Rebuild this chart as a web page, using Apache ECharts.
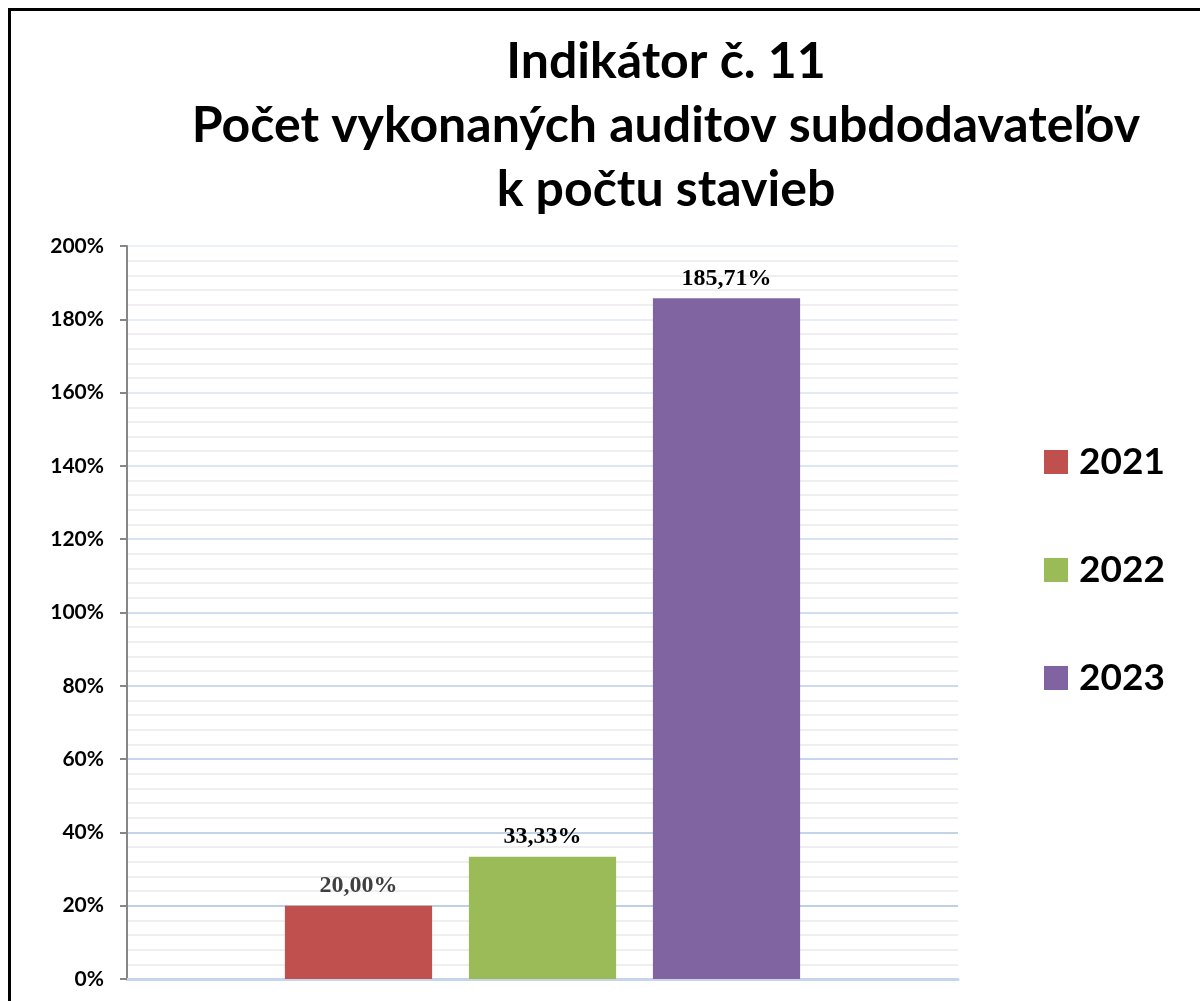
<!DOCTYPE html>
<html><head><meta charset="utf-8">
<script src="https://cdn.jsdelivr.net/npm/echarts@6/dist/echarts.min.js"></script>
<style>html,body{margin:0;padding:0;background:#fff}#c{width:1200px;height:1001px}</style>
</head><body><div id="c"></div>
<script>
const titleLines = ['Indikátor č. 11', 'Počet vykonaných auditov subdodavateľov', 'k počtu stavieb'];
const categories = [''];
const seriesNames = ['2021', '2022', '2023'];
const values2021 = [20.00];
const values2022 = [33.33];
const values2023 = [185.71];
const seriesColors = ['#C0504D', '#9BBB59', '#8064A2'];
const labelColors = ['#404040', '#000000', '#000000'];
const yMin = 0, yMax = 200, yInterval = 20;

const chart = echarts.init(document.getElementById('c'), null, {renderer: 'canvas'});
const valuesList = [values2021, values2022, values2023];
const fmt = v => v.toFixed(2).replace('.', ',') + '%';
const series = seriesNames.map((n, i) => ({
  name: n, type: 'bar', data: valuesList[i],
  barGap: '25%', barCategoryGap: '38%',
  itemStyle: {color: seriesColors[i]},
  label: {show: true, position: 'top', distance: 8,
    formatter: p => fmt(p.value),
    fontFamily: 'Liberation Serif', fontWeight: 'bold', fontSize: 24, color: labelColors[i]}
}));
chart.setOption({
  backgroundColor: '#ffffff',
  animation: false,
  title: {text: titleLines.join('\n'), left: 661, top: 25, textAlign: 'center',
    textStyle: {fontFamily: 'Lato', fontWeight: 'bold', fontSize: 50, lineHeight: 64, color: '#000'}},
  graphic: [{type: 'rect', shape: {x: 9.5, y: 9.5, width: 1250, height: 1050},
    style: {fill: 'none', stroke: '#000', lineWidth: 3}, silent: true}],
  legend: {orient: 'vertical', left: 1044, top: 442, padding: 0, itemWidth: 24, itemHeight: 24, itemGap: 68,
    icon: 'rect',
    textStyle: {fontFamily: 'Lato', fontWeight: 'bold', fontSize: 37, lineHeight: 40, color: '#000', padding: [0,0,0,6]},
    data: seriesNames},
  grid: {left: 127, right: 242, top: 246, bottom: 22, containLabel: false},
  xAxis: {type: 'category', data: categories,
    axisLine: {show: true, lineStyle: {color: '#C6D5EA', width: 3}},
    axisTick: {show: false}, axisLabel: {show: false}},
  yAxis: {type: 'value', min: yMin, max: yMax, interval: yInterval,
    axisLine: {show: true, lineStyle: {color: '#868686', width: 2}},
    axisTick: {show: true, length: 7, lineStyle: {color: '#868686', width: 2}},
    axisLabel: {formatter: '{value}%', margin: 23, fontFamily: 'Lato', fontWeight: 'bold', fontSize: 21, color: '#000'},
    splitLine: {show: true, lineStyle: {width: 2, color: ['#C6D5EA','#BDD0EA','#C2D3EA','#C7D6EC','#CCDAEE','#D1DEF0','#D7E2F2','#DCE6F4','#E2EAF6','#E8EEF8','#EDF2FA']}},
    minorTick: {show: false, splitNumber: 5},
    minorSplitLine: {show: true, lineStyle: {color: '#EFEFEF', width: 2}}
  },
  series: series
});
</script></body></html>
